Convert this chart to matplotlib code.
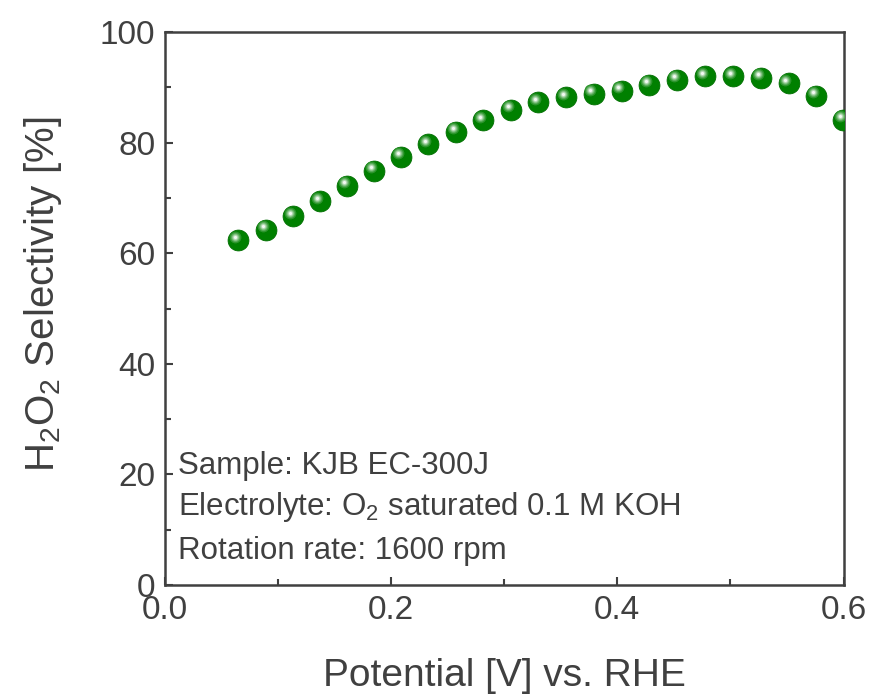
import matplotlib
matplotlib.use("Agg")
import matplotlib.pyplot as plt
from matplotlib.ticker import MultipleLocator
from matplotlib.transforms import offset_copy
import numpy as np

potential = [0.0646, 0.0893, 0.1132, 0.1371, 0.1612, 0.1851, 0.2087, 0.2326,
             0.2573, 0.2815, 0.3060, 0.3301, 0.3546, 0.3791, 0.4039, 0.4283,
             0.4530, 0.4778, 0.5023, 0.5271, 0.5516, 0.5757, 0.5998]
selectivity = [62.3, 64.2, 66.7, 69.4, 72.2, 74.9, 77.4, 79.7, 81.9, 84.0,
               85.9, 87.3, 88.2, 88.8, 89.4, 90.4, 91.3, 92.0, 92.0, 91.7,
               90.7, 88.5, 84.1]
notes = ["Sample: KJB EC-300J",
         "Electrolyte: O$_2$ saturated 0.1 M KOH",
         "Rotation rate: 1600 rpm"]

FONT = 'Liberation Sans'
plt.rcParams['font.family'] = [FONT, 'DejaVu Sans']
plt.rcParams['mathtext.fontset'] = 'custom'
plt.rcParams['mathtext.rm'] = FONT
plt.rcParams['mathtext.it'] = FONT
plt.rcParams['mathtext.default'] = 'regular'

txt = '#404040'
fig = plt.figure(figsize=(8.72, 6.96), dpi=100)
ax = fig.add_axes([165/872, 1-585/696, (843.5-165)/872, (585-32)/696])

# sphere-like markers
green = np.array([0.0, 0.5, 0.0])
ax.scatter(potential, selectivity, s=15**2, color='#008000', edgecolors='#006e00',
           linewidths=0.6, zorder=3)
layers = [(8.5, 0.18), (6.6, 0.35), (5.0, 0.55), (3.5, 0.75), (2.2, 0.95)]
for d, f in layers:
    c = green * (1 - f) + np.array([1, 1, 1]) * f
    tr = offset_copy(ax.transData, fig=fig, x=-2.4, y=2.6, units='points')
    ax.scatter(potential, selectivity, s=d**2, color=c, linewidths=0,
               transform=tr, zorder=4)

ax.set_xlim(0, 0.6)
ax.set_ylim(0, 100)
ax.xaxis.set_major_locator(MultipleLocator(0.2))
ax.xaxis.set_minor_locator(MultipleLocator(0.1))
ax.yaxis.set_major_locator(MultipleLocator(20))
ax.yaxis.set_minor_locator(MultipleLocator(10))
ax.tick_params(which='both', direction='in', colors=txt, width=1.5,
               labelsize=24, top=False, right=False)
ax.tick_params(which='major', length=6, pad=7)
ax.tick_params(which='minor', length=4)
for sp in ax.spines.values():
    sp.set_color(txt)
    sp.set_linewidth(1.8)

ax.set_xlabel('Potential [V] vs. RHE', fontsize=28, color=txt, labelpad=23)
ax.set_ylabel('H$_2$O$_2$ Selectivity [%]', fontsize=29, color=txt, labelpad=26)
ax.yaxis.label.set_y(0.526)

ys = [21.5, 14.1, 6.1]
for t, y in zip(notes, ys):
    ax.text(0.0115, y, t, fontsize=22.5, color=txt, va='center', ha='left')

fig.savefig('out.png', dpi=100)
